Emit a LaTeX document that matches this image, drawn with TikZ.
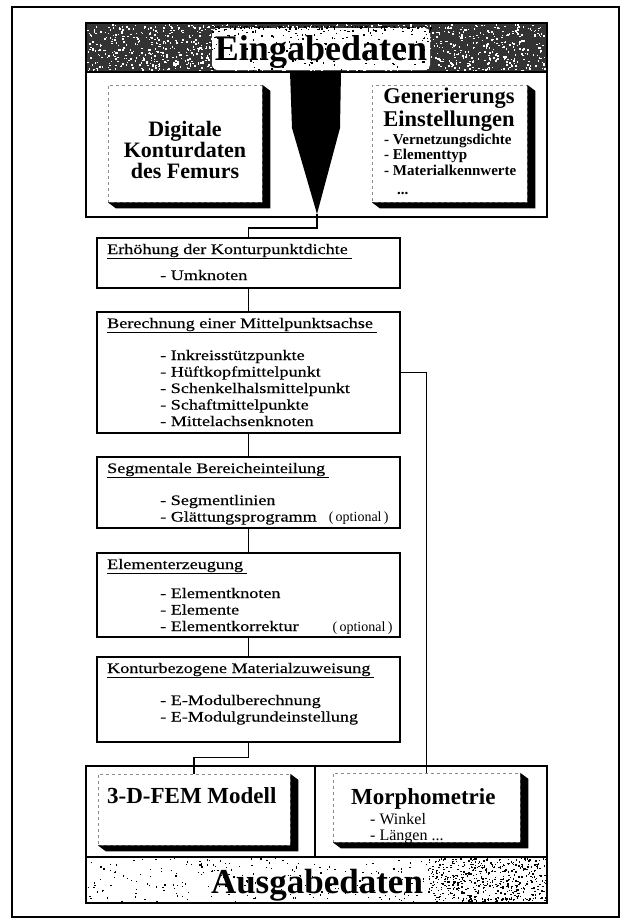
\documentclass[tikz,border=0pt]{standalone}
\usepackage{fontspec}
\setmainfont{Liberation Serif}
\newfontfamily\widefont[FakeStretch=1.25, FakeBold=0.4]{Liberation Serif}
\newcommand\optnote{{\rmfamily\fontsize{14}{16.5}\selectfont(\,optional\,)}}

\tikzset{
  bigframe/.style={line width=1.6pt},
  flowbox/.style={draw, line width=1.3pt, minimum width=303pt, inner sep=0pt},
  face/.style={draw=black!45, line width=0.5pt, dashed, fill=white, inner sep=0pt},
  conn/.style={line width=1.3pt},
  head/.style={font=\fontsize{36}{36}\selectfont\bfseries, inner sep=0pt, anchor=base},
  boxtitle/.style={font={\widefont\fontsize{14.5}{16.5}\selectfont}, inner sep=0pt, anchor=base west},
  items/.style={font={\widefont\fontsize{14.5}{16.5}\selectfont}, align=left, inner sep=0pt, anchor=base west},
  bigtext/.style={font=\fontsize{23}{23}\selectfont\bfseries, inner sep=0pt, anchor=base west},
}

% black depth of a raised box
\newcommand\extrude[1]{\fill (#1.north east) -- ++(8,6) -- ([shift={(8,6)}]#1.south east)
  -- ([shift={(8,6)}]#1.south west) -- (#1.south west) -- (#1.south east) -- cycle;}

\begin{document}
\begin{tikzpicture}[x=1pt, y=-1pt]
            \useasboundingbox (0,0) rectangle (626,919);
            \pgfmathsetseed{7}
            \draw[line width=1.2pt] (12,7) rectangle (619,917);

            % Eingabedaten
            \fill[black!80] (86,23) rectangle (547,72);
            \foreach \i in {1,...,1400}{
                \pgfmathsetmacro\rx{87+458*rnd}
                \pgfmathsetmacro\ry{24+46*rnd}
                \fill[white] (\rx,\ry) rectangle ++(1.5,1.5);
            }
            \fill[white, rounded corners=5pt] (212,28) rectangle (430,70);
            \foreach \i in {1,...,260}{
                \pgfmathsetmacro\rx{210+222*rnd}
                \pgfmathsetmacro\ry{26+46*rnd^3}
                \fill (\rx,\ry) rectangle ++(1.4,1.4);
            }
            \draw[bigframe] (86,23) rectangle (547,217);
            \draw[bigframe] (86,72) -- (547,72);
            \node[head] (ein) at (321,60) {Eingabedaten};

            \fill (290,72) -- (341,72) -- (340,128) -- (317,214) -- (292,128) -- cycle;
            \coordinate (tip) at (317,214);

            \node[face, minimum width=154pt, minimum height=117pt] (dig) at (185,143.5) {};
            \extrude{dig}
            \node[font=\fontsize{22}{21}\selectfont\bfseries, align=center] (digtext) at (185,150) {Digitale\\Konturdaten\\des Femurs};

            \node[face, minimum width=155pt, minimum height=117pt] (gen) at (449.5,143.5) {};
            \extrude{gen}
            \node[font=\fontsize{22.5}{23}\selectfont\bfseries, align=center, inner sep=0pt, anchor=base] (gentext) at (449,126) {Generierungs\\Einstellungen};
            \node[font=\fontsize{15}{15.5}\selectfont\bfseries, align=left, inner sep=0pt, anchor=base west] (genitems) at (384,194)
                {- Vernetzungsdichte\\- Elementtyp\\- Materialkennwerte\\[3.5pt]\hspace*{13pt}...};

            % Ablauf
            \node[flowbox, minimum height=50pt] (erh) at (248.5,263) {};
            \node[boxtitle] (erhtitle) at (107,254) {\underline{Erhöhung der Konturpunktdichte\hspace{4pt}}};
            \node[items] (erhitems) at (160,280) {- Umknoten};

            \node[flowbox, minimum height=121pt] (ber) at (248.5,372.5) {};
            \node[boxtitle] (bertitle) at (107,328) {\underline{Berechnung einer Mittelpunktsachse\hspace{4pt}}};
            \node[items] (beritems) at (160,426) {- Inkreisstützpunkte\\- Hüftkopfmittelpunkt\\- Schenkelhalsmittelpunkt\\- Schaftmittelpunkte\\- Mittelachsenknoten};

            \node[flowbox, minimum height=71pt] (seg) at (248.5,492.5) {};
            \node[boxtitle] (segtitle) at (107,473) {\underline{Segmentale Bereicheinteilung\hspace{4pt}}};
            \node[items] (segitems) at (160,521.5) {- Segmentlinien\\- Glättungsprogramm\hspace{12pt}\optnote};

            \node[flowbox, minimum height=84pt] (elm) at (248.5,595) {};
            \node[boxtitle] (elmtitle) at (107,569) {\underline{Elementerzeugung\hspace{4pt}}};
            \node[items] (elmitems) at (160,631) {- Elementknoten\\- Elemente\\- Elementkorrektur\hspace{34pt}\optnote};

            \node[flowbox, minimum height=85pt] (mat) at (248.5,699.5) {};
            \node[boxtitle] (mattitle) at (107,673) {\underline{Konturbezogene Materialzuweisung\hspace{4pt}}};
            \node[items] (matitems) at (160,721.5) {- E-Modulberechnung\\- E-Modulgrundeinstellung};

            % Ausgabedaten
            \foreach \i in {1,...,300}{
                \pgfmathsetmacro\rx{87+458*rnd}
                \pgfmathsetmacro\ry{858+43*rnd}
                \fill (\rx,\ry) rectangle ++(1.3,1.3);
            }
            \foreach \i in {1,...,450}{
                \pgfmathsetmacro\rx{428+117*rnd}
                \pgfmathsetmacro\ry{858+43*rnd}
                \fill (\rx,\ry) rectangle ++(1.4,1.4);
            }
            \draw[bigframe] (86,766) rectangle (547,903);
            \draw[bigframe] (86,857) -- (547,857);
            \draw[bigframe] (315,766) -- (315,857);
            \node[head, font=\fontsize{35}{35}\selectfont\bfseries] (aus) at (317,893) {Ausgabedaten};

            \node[face, minimum width=192pt, minimum height=71pt] (fem) at (194,809.5) {};
            \extrude{fem}
            \node[bigtext] (femtext) at (107,803) {3-D-FEM Modell};

            \node[face, minimum width=187pt, minimum height=69pt] (morph) at (426.5,807.5) {};
            \extrude{morph}
            \node[bigtext] (morphtext) at (351,804) {Morphometrie};
            \node[font=\fontsize{16}{16}\selectfont, align=left, inner sep=0pt, anchor=base west] (morphitems) at (370,840) {- Winkel\\- Längen ...};

            \draw[conn] (tip) -- ++(0,14) -| (erh.north);
            \draw[conn] (erh) -- (ber);
            \draw[conn] (ber) -- (seg);
            \draw[conn] (seg) -- (elm);
            \draw[conn] (elm) -- (mat);
            \draw[conn] (mat.south) -- ++(0,15) -| (fem.north);
            \draw[conn] (ber.east) -| (morph.north);
        \end{tikzpicture}
\end{document}
